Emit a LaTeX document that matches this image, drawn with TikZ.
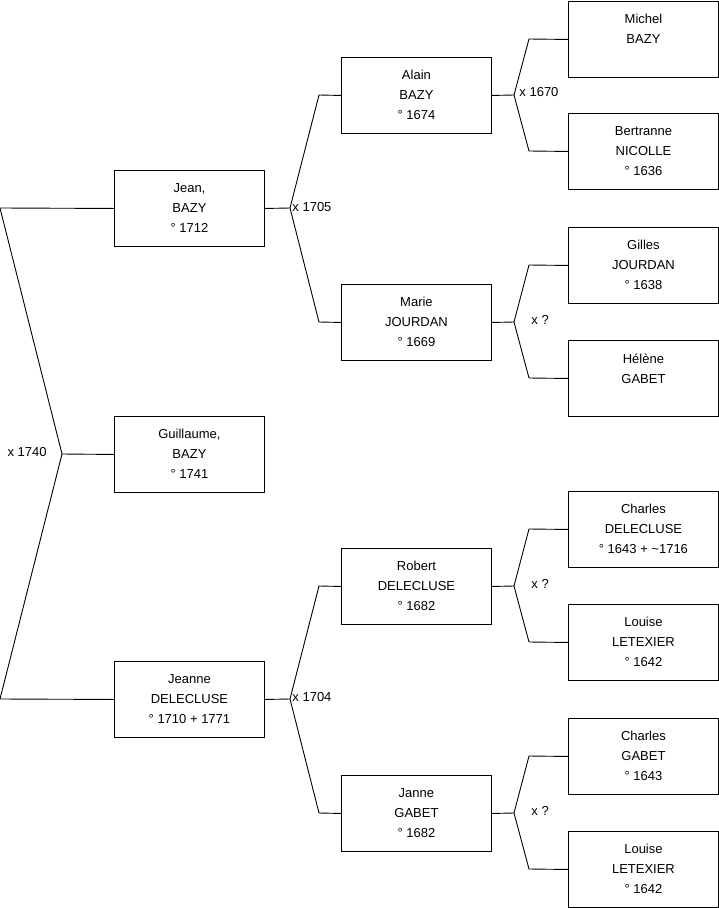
\documentclass[tikz,border=0pt]{standalone}
\usepackage{fontspec}
\setmainfont{Liberation Sans}
\begin{document}
\begin{tikzpicture}[x=1pt,y=-1pt, line width=0.9pt,
 person/.style={draw, minimum width=150pt, minimum height=76pt, inner sep=0pt, anchor=north west},
 txt/.style={anchor=north, inner sep=0pt, align=center, font=\fontsize{13}{20}\selectfont},
 lbl/.style={inner sep=0pt, font=\fontsize{13}{16}\selectfont}]
\useasboundingbox (0,0) rectangle (719,908);

% level 1
\node[person] (jean) at (114,170) {};
\node[txt] (tjean) at ([yshift=-13pt]jean.north) {Jean,\\BAZY\\° 1712};
\node[person] (guil) at (114,416) {};
\node[txt] (tguil) at ([yshift=-13pt]guil.north) {Guillaume,\\BAZY\\° 1741};
\node[person] (jeanne) at (114,661) {};
\node[txt] (tjeanne) at ([yshift=-13pt]jeanne.north) {Jeanne\\DELECLUSE\\° 1710 + 1771};

% level 2
\node[person] (alain) at (341,57) {};
\node[txt] (talain) at ([yshift=-13pt]alain.north) {Alain\\BAZY\\° 1674};
\node[person] (marie) at (341,284) {};
\node[txt] (tmarie) at ([yshift=-13pt]marie.north) {Marie\\JOURDAN\\° 1669};
\node[person] (robert) at (341,548) {};
\node[txt] (trobert) at ([yshift=-13pt]robert.north) {Robert\\DELECLUSE\\° 1682};
\node[person] (janne) at (341,775) {};
\node[txt] (tjanne) at ([yshift=-13pt]janne.north) {Janne\\GABET\\° 1682};

% level 3
\node[person] (michel) at (568,1) {};
\node[txt] (tmichel) at ([yshift=-13pt]michel.north) {Michel\\BAZY};
\node[person] (bert) at (568,113) {};
\node[txt] (tbert) at ([yshift=-13pt]bert.north) {Bertranne\\NICOLLE\\° 1636};
\node[person] (gilles) at (568,227) {};
\node[txt] (tgilles) at ([yshift=-13pt]gilles.north) {Gilles\\JOURDAN\\° 1638};
\node[person] (helene) at (568,340) {};
\node[txt] (thelene) at ([yshift=-13pt]helene.north) {Hélène\\GABET};
\node[person] (charles) at (568,491) {};
\node[txt] (tcharles) at ([yshift=-13pt]charles.north) {Charles\\DELECLUSE\\° 1643 + \textasciitilde1716};
\node[person] (louise) at (568,604) {};
\node[txt] (tlouise) at ([yshift=-13pt]louise.north) {Louise\\LETEXIER\\° 1642};
\node[person] (charlesg) at (568,718) {};
\node[txt] (tcharlesg) at ([yshift=-13pt]charlesg.north) {Charles\\GABET\\° 1643};
\node[person] (louise2) at (568,831) {};
\node[txt] (tlouise2) at ([yshift=-13pt]louise2.north) {Louise\\LETEXIER\\° 1642};

% level 0-1 bracket
\coordinate (a0) at (0,208);
\coordinate (a1) at (62,454);
\coordinate (a2) at (0,699);
\draw (jean.west) -- (a0) -- (a1) -- (a2) -- (jeanne.west);
\draw (a1) -- (guil.west);
\node[lbl, anchor=east] (l1740) at (47,452) {x 1740};

% level 1-2 brackets
\coordinate (b1) at (290,208);
\coordinate (b1u) at (319,95);
\coordinate (b1d) at (319,322);
\draw (jean.east) -- (b1) -- (b1u) -- (alain.west);
\draw (b1) -- (b1d) -- (marie.west);
\node[lbl, anchor=west] (l1705) at (292,207) {x 1705};

\coordinate (b2) at (290,699);
\coordinate (b2u) at (319,586);
\coordinate (b2d) at (319,813);
\draw (jeanne.east) -- (b2) -- (b2u) -- (robert.west);
\draw (b2) -- (b2d) -- (janne.west);
\node[lbl, anchor=west] (l1704) at (292,697) {x 1704};

% level 2-3 brackets
\coordinate (c1) at (514,95);
\coordinate (c1u) at (529,39);
\coordinate (c1d) at (529,151);
\draw (alain.east) -- (c1) -- (c1u) -- (michel.west);
\draw (c1) -- (c1d) -- (bert.west);
\node[lbl, anchor=west] (l1670) at (519,92) {x 1670};

\coordinate (c2) at (514,322);
\coordinate (c2u) at (529,265);
\coordinate (c2d) at (529,378);
\draw (marie.east) -- (c2) -- (c2u) -- (gilles.west);
\draw (c2) -- (c2d) -- (helene.west);
\node[lbl, anchor=west] (lq1) at (531,320) {x ?};

\coordinate (c3) at (514,586);
\coordinate (c3u) at (529,529);
\coordinate (c3d) at (529,642);
\draw (robert.east) -- (c3) -- (c3u) -- (charles.west);
\draw (c3) -- (c3d) -- (louise.west);
\node[lbl, anchor=west] (lq2) at (531,584) {x ?};

\coordinate (c4) at (514,813);
\coordinate (c4u) at (529,756);
\coordinate (c4d) at (529,869);
\draw (janne.east) -- (c4) -- (c4u) -- (charlesg.west);
\draw (c4) -- (c4d) -- (louise2.west);
\node[lbl, anchor=west] (lq3) at (531,811) {x ?};
\end{tikzpicture}
\end{document}
